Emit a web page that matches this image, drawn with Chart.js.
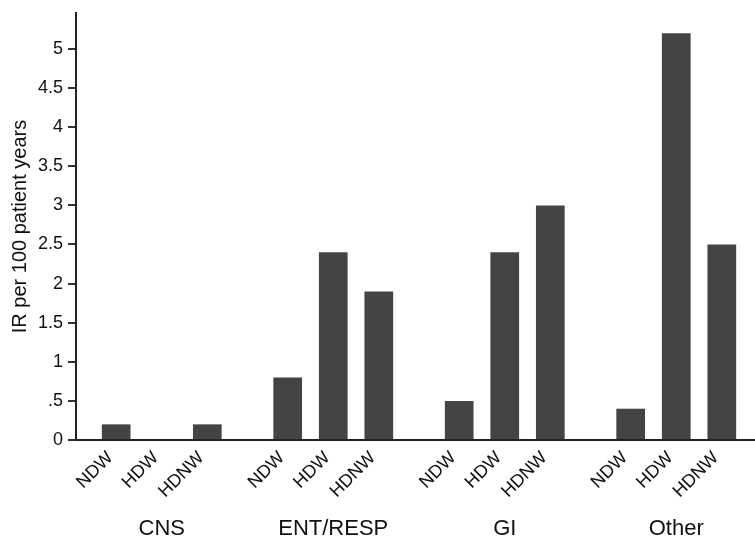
<!DOCTYPE html>
<html>
<head>
<meta charset="utf-8">
<script src="https://cdn.jsdelivr.net/npm/chart.js@4"></script>
<style>
  html, body { margin: 0; padding: 0; background: #fff; overflow: hidden; }
</style>
</head>
<body>
<canvas id="myChart" width="762" height="537"></canvas>
<script>
// Incidence rates by category and group
const categories = ['CNS', 'ENT/RESP', 'GI', 'Other'];
const groups = ['NDW', 'HDW', 'HDNW'];
const ndwValues = [0.2, 0.8, 0.5, 0.4];
const hdwValues = [0, 2.4, 2.4, 5.2];
const hdnwValues = [0.2, 1.9, 3.0, 2.5];
const yTitle = 'IR per 100 patient years';

const barColor = '#444444';
const fontFamily = '"Liberation Sans", Arial, Helvetica, sans-serif';

// draws NDW / HDW / HDNW under each bar, rotated
const groupLabels = {
    id: 'groupLabels',
    afterDraw(chart) {
        const c = chart.ctx;
        const bottom = chart.chartArea.bottom;
        c.save();
        c.font = '18px ' + fontFamily;
        c.fillStyle = '#111';
        c.textAlign = 'right';
        c.textBaseline = 'middle';
        chart.data.datasets.forEach((ds, i) => {
            chart.getDatasetMeta(i).data.forEach(bar => {
                c.save();
                c.translate(bar.x - 6, bottom + 15);
                c.rotate(-Math.PI / 4);
                c.fillText(ds.label, 0, 0);
                c.restore();
            });
        });
        c.restore();
    }
};

const ctx = document.getElementById('myChart').getContext('2d');
const myChart = new Chart(ctx, {
    type: 'bar',
    data: {
        labels: categories,
        datasets: [
            { label: groups[0], data: ndwValues, backgroundColor: barColor },
            { label: groups[1], data: hdwValues, backgroundColor: barColor },
            { label: groups[2], data: hdnwValues, backgroundColor: barColor }
        ]
    },
    options: {
        responsive: false,
        animation: false,
        devicePixelRatio: 1,
        categoryPercentage: 0.797,
        barPercentage: 0.63,
        layout: { padding: { top: 13, left: 0, right: 0, bottom: 0 } },
        plugins: {
            legend: { display: false },
            tooltip: { enabled: false }
        },
        scales: {
            x: {
                grid: { display: false, drawTicks: false },
                border: { display: true, color: '#222', width: 2 },
                ticks: {
                    color: '#111',
                    font: { family: fontFamily, size: 22 },
                    padding: 76,
                    maxRotation: 0,
                    autoSkip: false
                },
                afterFit(scale) {
                    scale.height = 97;
                    scale.paddingLeft = 0;
                    scale.paddingRight = 0;
                }
            },
            y: {
                min: 0,
                max: 5.46,
                grid: { display: true, drawOnChartArea: false, drawTicks: true, tickLength: 8, color: '#333', lineWidth: 2 },
                border: { display: true, color: '#222', width: 2 },
                ticks: {
                    stepSize: 0.5,
                    includeBounds: false,
                    padding: 5,
                    color: '#111',
                    font: { family: fontFamily, size: 18 },
                    callback: v => (v > 0 && v < 1) ? String(v).replace(/^0/, '') : String(v)
                },
                title: {
                    display: true,
                    text: yTitle,
                    color: '#111',
                    font: { family: fontFamily, size: 20 },
                    padding: { top: 8, bottom: 0 }
                },
                afterFit(scale) {
                    scale.width = 76;
                    scale.paddingTop = 0;
                    scale.paddingBottom = 0;
                }
            }
        }
    },
    plugins: [groupLabels]
});
</script>
</body>
</html>
